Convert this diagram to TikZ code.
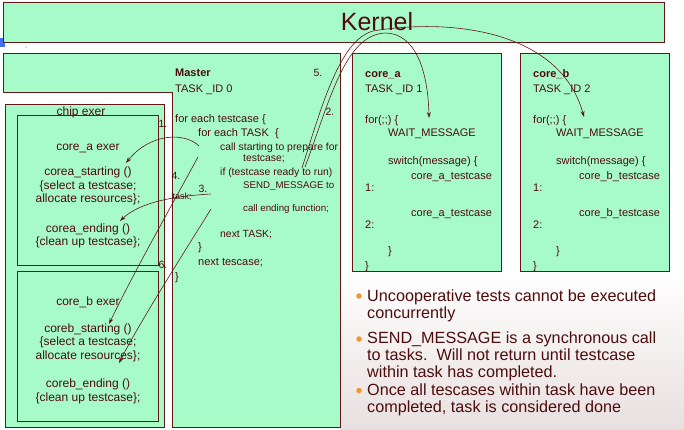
\documentclass[tikz,border=0pt]{standalone}
\usepackage{fontspec}
\setmainfont{Liberation Sans}
\usetikzlibrary{arrows.meta}
\definecolor{boxgreen}{RGB}{166,251,200}
\definecolor{edgeclr}{RGB}{100,22,22}
\definecolor{txtclr}{RGB}{78,12,12}
\definecolor{bulorange}{RGB}{245,150,40}
\definecolor{markblue}{RGB}{70,110,240}
\definecolor{shadeclr}{RGB}{232,224,224}
\begin{document}
\begin{tikzpicture}[x=1pt,y=-1pt,
  box/.style={draw=edgeclr, fill=boxgreen, line width=0.9pt},
  txt/.style={anchor=base west, inner sep=0pt, text=txtclr, font=\fontsize{11}{12}\selectfont},
  txtsm/.style={txt, font=\fontsize{9.7}{11}\selectfont},
  txtmd/.style={txt, font=\fontsize{10.4}{11}\selectfont},
  ttxt/.style={anchor=base west, inner sep=0pt, text=txtclr, font=\fontsize{11}{13}\selectfont},
  ctxt/.style={anchor=base, inner sep=0pt, text=txtclr, font=\fontsize{12}{14}\selectfont},
  btxt/.style={anchor=base west, inner sep=0pt, text=txtclr, font=\fontsize{16.2}{18}\selectfont},
  lbl/.style={anchor=center, inner sep=0pt, text=txtclr, font=\fontsize{10.5}{12}\selectfont},
  conn/.style={draw=edgeclr, line width=0.6pt, -{Stealth[length=6pt,width=4pt]}},
  bul/.style={circle, fill=bulorange, inner sep=0pt, minimum size=5.5pt},
]
\useasboundingbox (0,0) rectangle (684,429);
% slide background
\shade[top color=white, bottom color=shadeclr] (340,270) rectangle (684,429);
\fill[markblue] (0,38) rectangle (5,47);
\fill[markblue] (26,47) circle (0.7);

% boxes
\path[box] (3,2) rectangle (664,42);
\node[anchor=center, inner sep=0pt, text=txtclr, font=\fontsize{25}{28}\selectfont] (kernel) at (377,22) {Kernel};
\path[box] (3,53) -- (340,53) -- (340,427) -- (172,427) -- (172,92) -- (3,92) -- cycle;
\path[box] (5,104) rectangle (164,427);
\path[box] (17,115) rectangle (158.5,265.5);
\path[box] (17,271) rectangle (158.5,421);
\path[box] (352,53) rectangle (501,271);
\path[box] (520,53) rectangle (669,271);

% master text
\node[txt] (mst) at (175,76) {\textbf{Master}};
\node[txt] (mid) at (175,92) {TASK \_ID 0};
\node[txt] (m1) at (175,122) {for each testcase \{};
\node[txt] (m2) at (198,136) {for each TASK\ \ \{};
\node[txtmd] (m3) at (220,150.5) {call starting to prepare for};
\node[txtmd] (m4) at (243,161) {testcase;};
\node[txtmd] (m5) at (220,175) {if (testcase ready to run)};
\node[txtsm] (m6) at (243,188) {SEND\_MESSAGE to};
\node[txtsm] (m7) at (243,211) {call ending function;};
\node[txtmd] (m8) at (220,237) {next TASK;};
\node[txt] (m9) at (198,250) {\}};
\node[txt] (m10) at (198,265) {next tescase;};
\node[txt] (m11) at (175,280) {\}};

% chip exer
\node[ctxt] (chip) at (81,115.5) {chip exer};
\node[ctxt] (a0) at (88,150) {core\_a exer};
\node[ctxt] (a1) at (88,175.5) {corea\_starting ()};
\node[ctxt] (a2) at (88,189) {\{select a testcase;};
\node[ctxt] (a3) at (88,202) {allocate resources\};};
\node[ctxt] (a4) at (88,232) {corea\_ending ()};
\node[ctxt] (a5) at (88,245) {\{clean up testcase\};};
\node[ctxt] (b0) at (88,305.5) {core\_b exer};
\node[ctxt] (b1) at (88,332) {coreb\_starting ()};
\node[ctxt] (b2) at (88,345.5) {\{select a testcase;};
\node[ctxt] (b3) at (88,359) {allocate resources\};};
\node[ctxt] (b4) at (88,387.5) {coreb\_ending ()};
\node[ctxt] (b5) at (88,401) {\{clean up testcase\};};

% core_a task
\node[ttxt] (ca0) at (365,77) {\textbf{core\_a}};
\node[ttxt] (ca1) at (365,92) {TASK \_ID 1};
\node[ttxt] (ca2) at (365,123) {for(;;) \{};
\node[ttxt] (ca3) at (388,136) {WAIT\_MESSAGE};
\node[ttxt] (ca4) at (388,164) {switch(message) \{};
\node[ttxt] (ca5) at (411,179) {core\_a\_testcase};
\node[ttxt] (ca6) at (365,191) {1:};
\node[ttxt] (ca7) at (411,216.5) {core\_a\_testcase};
\node[ttxt] (ca8) at (365,228) {2:};
\node[ttxt] (ca9) at (388,254) {\}};
\node[ttxt] (ca10) at (365,269) {\}};

% core_b task
\node[ttxt] (cb0) at (533,77) {\textbf{core\_b}};
\node[ttxt] (cb1) at (533,92) {TASK \_ID 2};
\node[ttxt] (cb2) at (533,123) {for(;;) \{};
\node[ttxt] (cb3) at (556,136) {WAIT\_MESSAGE};
\node[ttxt] (cb4) at (556,164) {switch(message) \{};
\node[ttxt] (cb5) at (579,179) {core\_b\_testcase};
\node[ttxt] (cb6) at (533,191) {1:};
\node[ttxt] (cb7) at (579,216.5) {core\_b\_testcase};
\node[ttxt] (cb8) at (533,228) {2:};
\node[ttxt] (cb9) at (556,254) {\}};
\node[ttxt] (cb10) at (533,269) {\}};

% bullets
\node[bul] (d1) at (359,296) {};
\node[btxt] (t1) at (367,301) {Uncooperative tests cannot be executed};
\node[btxt] (t2) at (367,318) {concurrently};
\node[bul] (d2) at (359,339) {};
\node[btxt] (t3) at (367,343.5) {SEND\_MESSAGE is a synchronous call};
\node[btxt] (t4) at (367,360) {to tasks.\ \ Will not return until testcase};
\node[btxt] (t5) at (367,377) {within task has completed.};
\node[bul] (d3) at (359,390.5) {};
\node[btxt] (t6) at (367,395) {Once all tescases within task have been};
\node[btxt] (t7) at (367,412.5) {completed, task is considered done};

% connector end points
\coordinate (s1) at (199,146);
\coordinate (e1) at (126,163);
\coordinate (s3) at (211,194);
\coordinate (e3) at (120,221);
\coordinate (s4) at (198,157);
\coordinate (e4) at (109,324);
\coordinate (s6) at (211,209);
\coordinate (e6) at (119,363);
\coordinate (s5) at (305,167);
\coordinate (e5) at (429,118);
\coordinate (s2) at (302,168);
\coordinate (e2) at (584,117);

\draw[conn] (s1) .. controls (185,132) and (150,133) .. (e1);
\draw[conn] (s3) .. controls (175,196) and (140,202) .. (e3);
\draw[conn] (s4) .. controls (172,205) and (135,270) .. (e4);
\draw[conn] (s6) .. controls (190,243) and (142,318) .. (e6);
\draw[conn] (s5) .. controls (330,100) and (345,35) .. (385,33) .. controls (415,33) and (428,70) .. (e5);
\draw[conn] (s2) .. controls (322,105) and (340,40) .. (373,31) .. controls (450,18) and (560,30) .. (e2);

% labels
\node[lbl] (l1) at (163,124) {1.};
\node[lbl] (l2) at (330,112) {2.};
\node[lbl] (l3) at (203,189) {3.};
\node[lbl] (l4) at (176,176) {4.};
\node[lbl] (l5) at (318,73) {5.};
\node[lbl] (l6) at (163,265) {6.};
\node[lbl, font=\fontsize{9}{10}\selectfont] (ltask) at (182,196.5) {task;};
\end{tikzpicture}
\end{document}
